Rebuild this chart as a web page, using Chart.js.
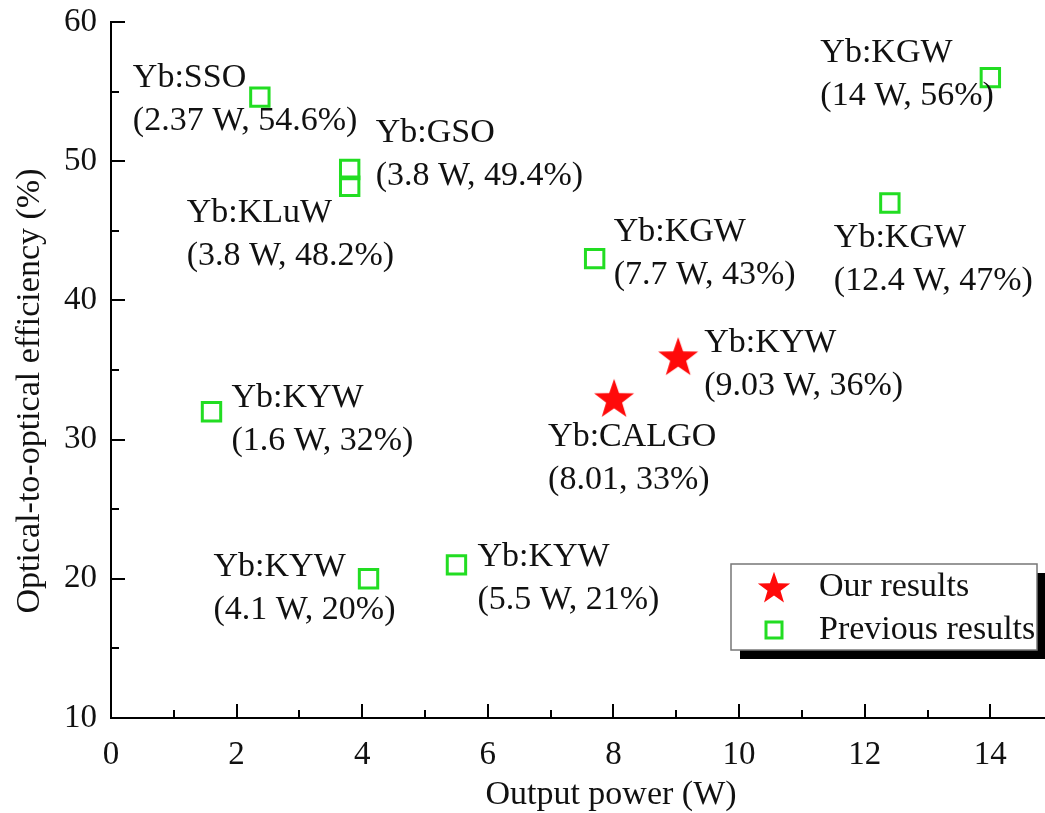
<!DOCTYPE html>
<html>
<head>
<meta charset="utf-8">
<script src="https://cdn.jsdelivr.net/npm/chart.js@4.4.1/dist/chart.umd.min.js"></script>
<style>
  html, body { margin: 0; padding: 0; background: #ffffff; }
  #wrap { width: 1045px; height: 813px; position: relative; }
</style>
</head>
<body>
<div id="wrap"><canvas id="c" width="1045" height="813"></canvas></div>
<script>
// ---- data ----
const ourNames = ['Yb:CALGO', 'Yb:KYW'];
const ourPower = [8.01, 9.03];          // W
const ourEff = [33, 36];                // %
const ourUnit = ['', ' W'];

const prevNames = ['Yb:SSO', 'Yb:GSO', 'Yb:KLuW', 'Yb:KGW', 'Yb:KGW', 'Yb:KGW', 'Yb:KYW', 'Yb:KYW', 'Yb:KYW'];
const prevPower = [2.37, 3.8, 3.8, 7.7, 14, 12.4, 1.6, 4.1, 5.5];   // W
const prevEff = [54.6, 49.4, 48.2, 43, 56, 47, 32, 20, 21];         // %
const prevUnit = [' W', ' W', ' W', ' W', ' W', ' W', ' W', ' W', ' W'];

const xTicks = [0, 2, 4, 6, 8, 10, 12, 14];
const xMinorTicks = [1, 3, 5, 7, 9, 11, 13];
const yTicks = [10, 20, 30, 40, 50, 60];
const yMinorTicks = [15, 25, 35, 45, 55];

const legendLabels = ['Our results', 'Previous results'];
const xTitle = 'Output power (W)';
const yTitle = 'Optical-to-optical efficiency (%)';

// ---- styling ----
const FONT = '"Liberation Serif", "Times New Roman", serif';
const TEXT = '#111';
const RED = '#ff0a0a';
const GREEN = '#22dd22';

// annotation placement: offset of the first text line (left, middle) from the mark
const ourLabelOffsets = [[-66, 39], [26, -13]];
const prevLabelOffsets = [[-127, -19], [26, -36], [-163, 27], [19, -27], [-170, -25], [-56, 35], [20, -14], [-155, -12], [21, -8]];
const LINE_GAP = 43;

function fmt(v) { return String(v); }

// filled five-pointed star used as the point style
function makeStar(outer) {
  const inner = outer * 0.4;
  const s = Math.ceil(outer * 2 + 4);
  const cv = document.createElement('canvas');
  cv.width = s; cv.height = s;
  const g = cv.getContext('2d');
  g.translate(s / 2, s / 2 + outer * 0.1);
  g.beginPath();
  for (let i = 0; i < 10; i++) {
    const r = i % 2 === 0 ? outer : inner;
    const a = -Math.PI / 2 + i * Math.PI / 5;
    const px = r * Math.cos(a), py = r * Math.sin(a);
    if (i === 0) g.moveTo(px, py); else g.lineTo(px, py);
  }
  g.closePath();
  g.fillStyle = RED;
  g.fill();
  return cv;
}
const starImg = makeStar(21);
const starSmall = makeStar(17);

const ourData = ourPower.map((x, i) => ({ x, y: ourEff[i] }));
const prevData = prevPower.map((x, i) => ({ x, y: prevEff[i] }));

// inward major/minor tick marks and the axis titles
const axisPlugin = {
  id: 'axisDecor',
  afterDraw(chart) {
    const { ctx, scales: { x, y }, chartArea: a } = chart;
    ctx.save();
    ctx.strokeStyle = '#000';
    ctx.lineWidth = 2;
    const mark = (vals, len, isX) => {
      vals.forEach(v => {
        ctx.beginPath();
        if (isX) {
          const px = Math.round(x.getPixelForValue(v));
          ctx.moveTo(px, a.bottom); ctx.lineTo(px, a.bottom - len);
        } else {
          const py = Math.round(y.getPixelForValue(v));
          ctx.moveTo(a.left, py); ctx.lineTo(a.left + len, py);
        }
        ctx.stroke();
      });
    };
    mark(xTicks, 14, true);
    mark(xMinorTicks, 8, true);
    mark(yTicks, 14, false);
    mark(yMinorTicks, 8, false);

    ctx.font = '34px ' + FONT;
    ctx.fillStyle = TEXT;
    ctx.textAlign = 'center';
    ctx.textBaseline = 'middle';
    ctx.fillText(xTitle, 611, 795);
    ctx.translate(30, 391);
    ctx.rotate(-Math.PI / 2);
    ctx.fillText(yTitle, 0, 0);
    ctx.restore();
  }
};

// two-line annotations next to each mark
const annotationPlugin = {
  id: 'annotations',
  afterDatasetsDraw(chart) {
    const ctx = chart.ctx;
    ctx.save();
    ctx.font = '34px ' + FONT;
    ctx.fillStyle = TEXT;
    ctx.textAlign = 'left';
    ctx.textBaseline = 'middle';
    const groups = [
      { names: ourNames, power: ourPower, eff: ourEff, unit: ourUnit, off: ourLabelOffsets, ds: 0 },
      { names: prevNames, power: prevPower, eff: prevEff, unit: prevUnit, off: prevLabelOffsets, ds: 1 }
    ];
    groups.forEach(g => {
      const meta = chart.getDatasetMeta(g.ds);
      meta.data.forEach((pt, i) => {
        const tx = pt.x + g.off[i][0];
        const ty = pt.y + g.off[i][1];
        ctx.fillText(g.names[i], tx, ty);
        ctx.fillText('(' + fmt(g.power[i]) + g.unit[i] + ', ' + fmt(g.eff[i]) + '%)', tx, ty + LINE_GAP);
      });
    });
    ctx.restore();
  }
};

// boxed legend with a drop shadow
const legendPlugin = {
  id: 'boxLegend',
  afterDraw(chart) {
    const ctx = chart.ctx;
    const bx = 731, by = 564, bw = 306, bh = 86, sh = 9;
    ctx.save();
    ctx.fillStyle = '#000';
    ctx.fillRect(bx + sh, by + sh, bw, bh);
    ctx.fillStyle = '#fff';
    ctx.fillRect(bx, by, bw, bh);
    ctx.strokeStyle = '#777';
    ctx.lineWidth = 1.5;
    ctx.strokeRect(bx, by, bw, bh);
    ctx.drawImage(starSmall, 774 - starSmall.width / 2, 587 - starSmall.height / 2);
    ctx.strokeStyle = GREEN;
    ctx.lineWidth = 3;
    ctx.strokeRect(774 - 8, 630 - 8, 16, 16);
    ctx.font = '34px ' + FONT;
    ctx.fillStyle = TEXT;
    ctx.textAlign = 'left';
    ctx.textBaseline = 'middle';
    ctx.fillText(legendLabels[0], 819, 587);
    ctx.fillText(legendLabels[1], 819, 630);
    ctx.restore();
  }
};

new Chart(document.getElementById('c'), {
  type: 'scatter',
  data: {
    datasets: [
      {
        label: legendLabels[0],
        data: ourData,
        pointStyle: starImg,
        pointRadius: 21,
        pointHoverRadius: 21,
        clip: false
      },
      {
        label: legendLabels[1],
        data: prevData,
        pointStyle: 'rect',
        pointRadius: 13,
        pointHoverRadius: 13,
        borderColor: GREEN,
        backgroundColor: 'rgba(0,0,0,0)',
        borderWidth: 3,
        pointBorderWidth: 3,
        clip: false
      }
    ]
  },
  options: {
    responsive: false,
    animation: false,
    devicePixelRatio: 1,
    layout: { autoPadding: false, padding: { top: 22, right: 0, left: 0, bottom: 0 } },
    plugins: { legend: { display: false }, tooltip: { enabled: false } },
    scales: {
      x: {
        type: 'linear',
        min: 0,
        max: 14.87,
        afterBuildTicks(s) { s.ticks = xTicks.map(v => ({ value: v })); },
        afterFit(s) {
          s.height = 95;
          s.paddingLeft = 0; s.paddingRight = 0;
        },
        grid: { display: false, drawTicks: false },
        border: { display: true, color: '#000', width: 2 },
        ticks: { color: TEXT, padding: 18, maxRotation: 0, autoSkip: false, font: { family: FONT, size: 33 } },
        title: { display: false }
      },
      y: {
        type: 'linear',
        min: 10,
        max: 60,
        afterBuildTicks(s) { s.ticks = yTicks.map(v => ({ value: v })); },
        afterFit(s) {
          s.width = 111;
          s.paddingTop = 0; s.paddingBottom = 0;
        },
        grid: { display: false, drawTicks: false },
        border: { display: true, color: '#000', width: 2 },
        ticks: { color: TEXT, padding: 14, autoSkip: false, font: { family: FONT, size: 33 } },
        title: { display: false }
      }
    }
  },
  plugins: [axisPlugin, annotationPlugin, legendPlugin]
});
</script>
</body>
</html>
